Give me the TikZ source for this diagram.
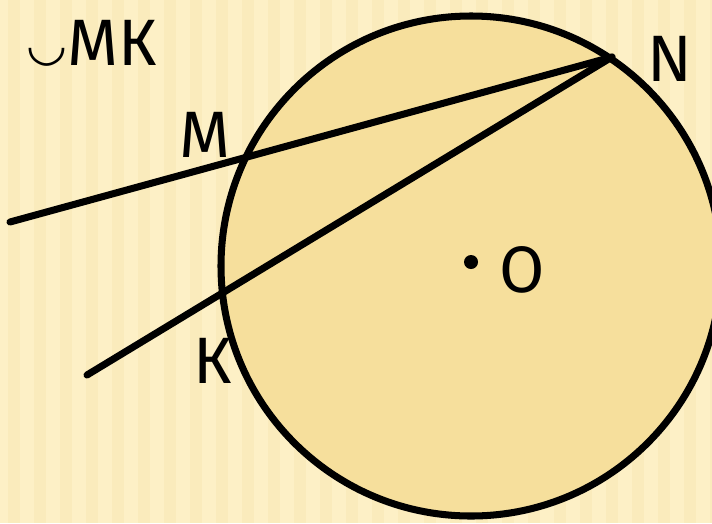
\documentclass[tikz,border=0pt]{standalone}
\usepackage{fontspec}
\setmainfont{Fira Sans}
\newfontfamily\symfont{DejaVu Sans}
\usetikzlibrary{positioning}

\definecolor{paper}{RGB}{253,240,198}
\definecolor{paperdark}{RGB}{246,228,175}
\definecolor{discfill}{RGB}{246,223,156}

\tikzset{
  secant/.style={line width=6pt, line cap=round},
  pointlabel/.style={font=\fontsize{56}{60}\selectfont, inner sep=0pt}
}

\begin{document}
\begin{tikzpicture}[x=0.03cm, y=-0.03cm]
\useasboundingbox (0,0) rectangle (712,523);
% background paper
\fill[paper] (0,0) rectangle (712,523);
\foreach \x in {0,26,...,712}
  \fill[paperdark, opacity=0.4] (\x+8,0) rectangle ++(12,523);

% circle and center
\coordinate (O) at (471,266);
\draw[fill=discfill, line width=6pt] (O) circle (250);
\fill (471,262) circle (7) coordinate (dot);
\node[pointlabel] (lO) at (522,270) {O};

% secants from N
\coordinate (N) at (612,57);
\coordinate (endM) at (10,222);
\coordinate (endK) at (87,375);
\draw[secant] (N) -- (endM);
\draw[secant] (N) -- (endK);

\node[pointlabel] (lN) at (670,59) {N};
\node[pointlabel] (lM) at (205,135) {М};
\node[pointlabel] (lK) at (213,361) {К};

% arc title
\node[pointlabel, anchor=west] (arcMK) at (26,43)
  {\raisebox{4pt}{\symfont\fontsize{40}{40}\selectfont ◡}МК};
\end{tikzpicture}
\end{document}
